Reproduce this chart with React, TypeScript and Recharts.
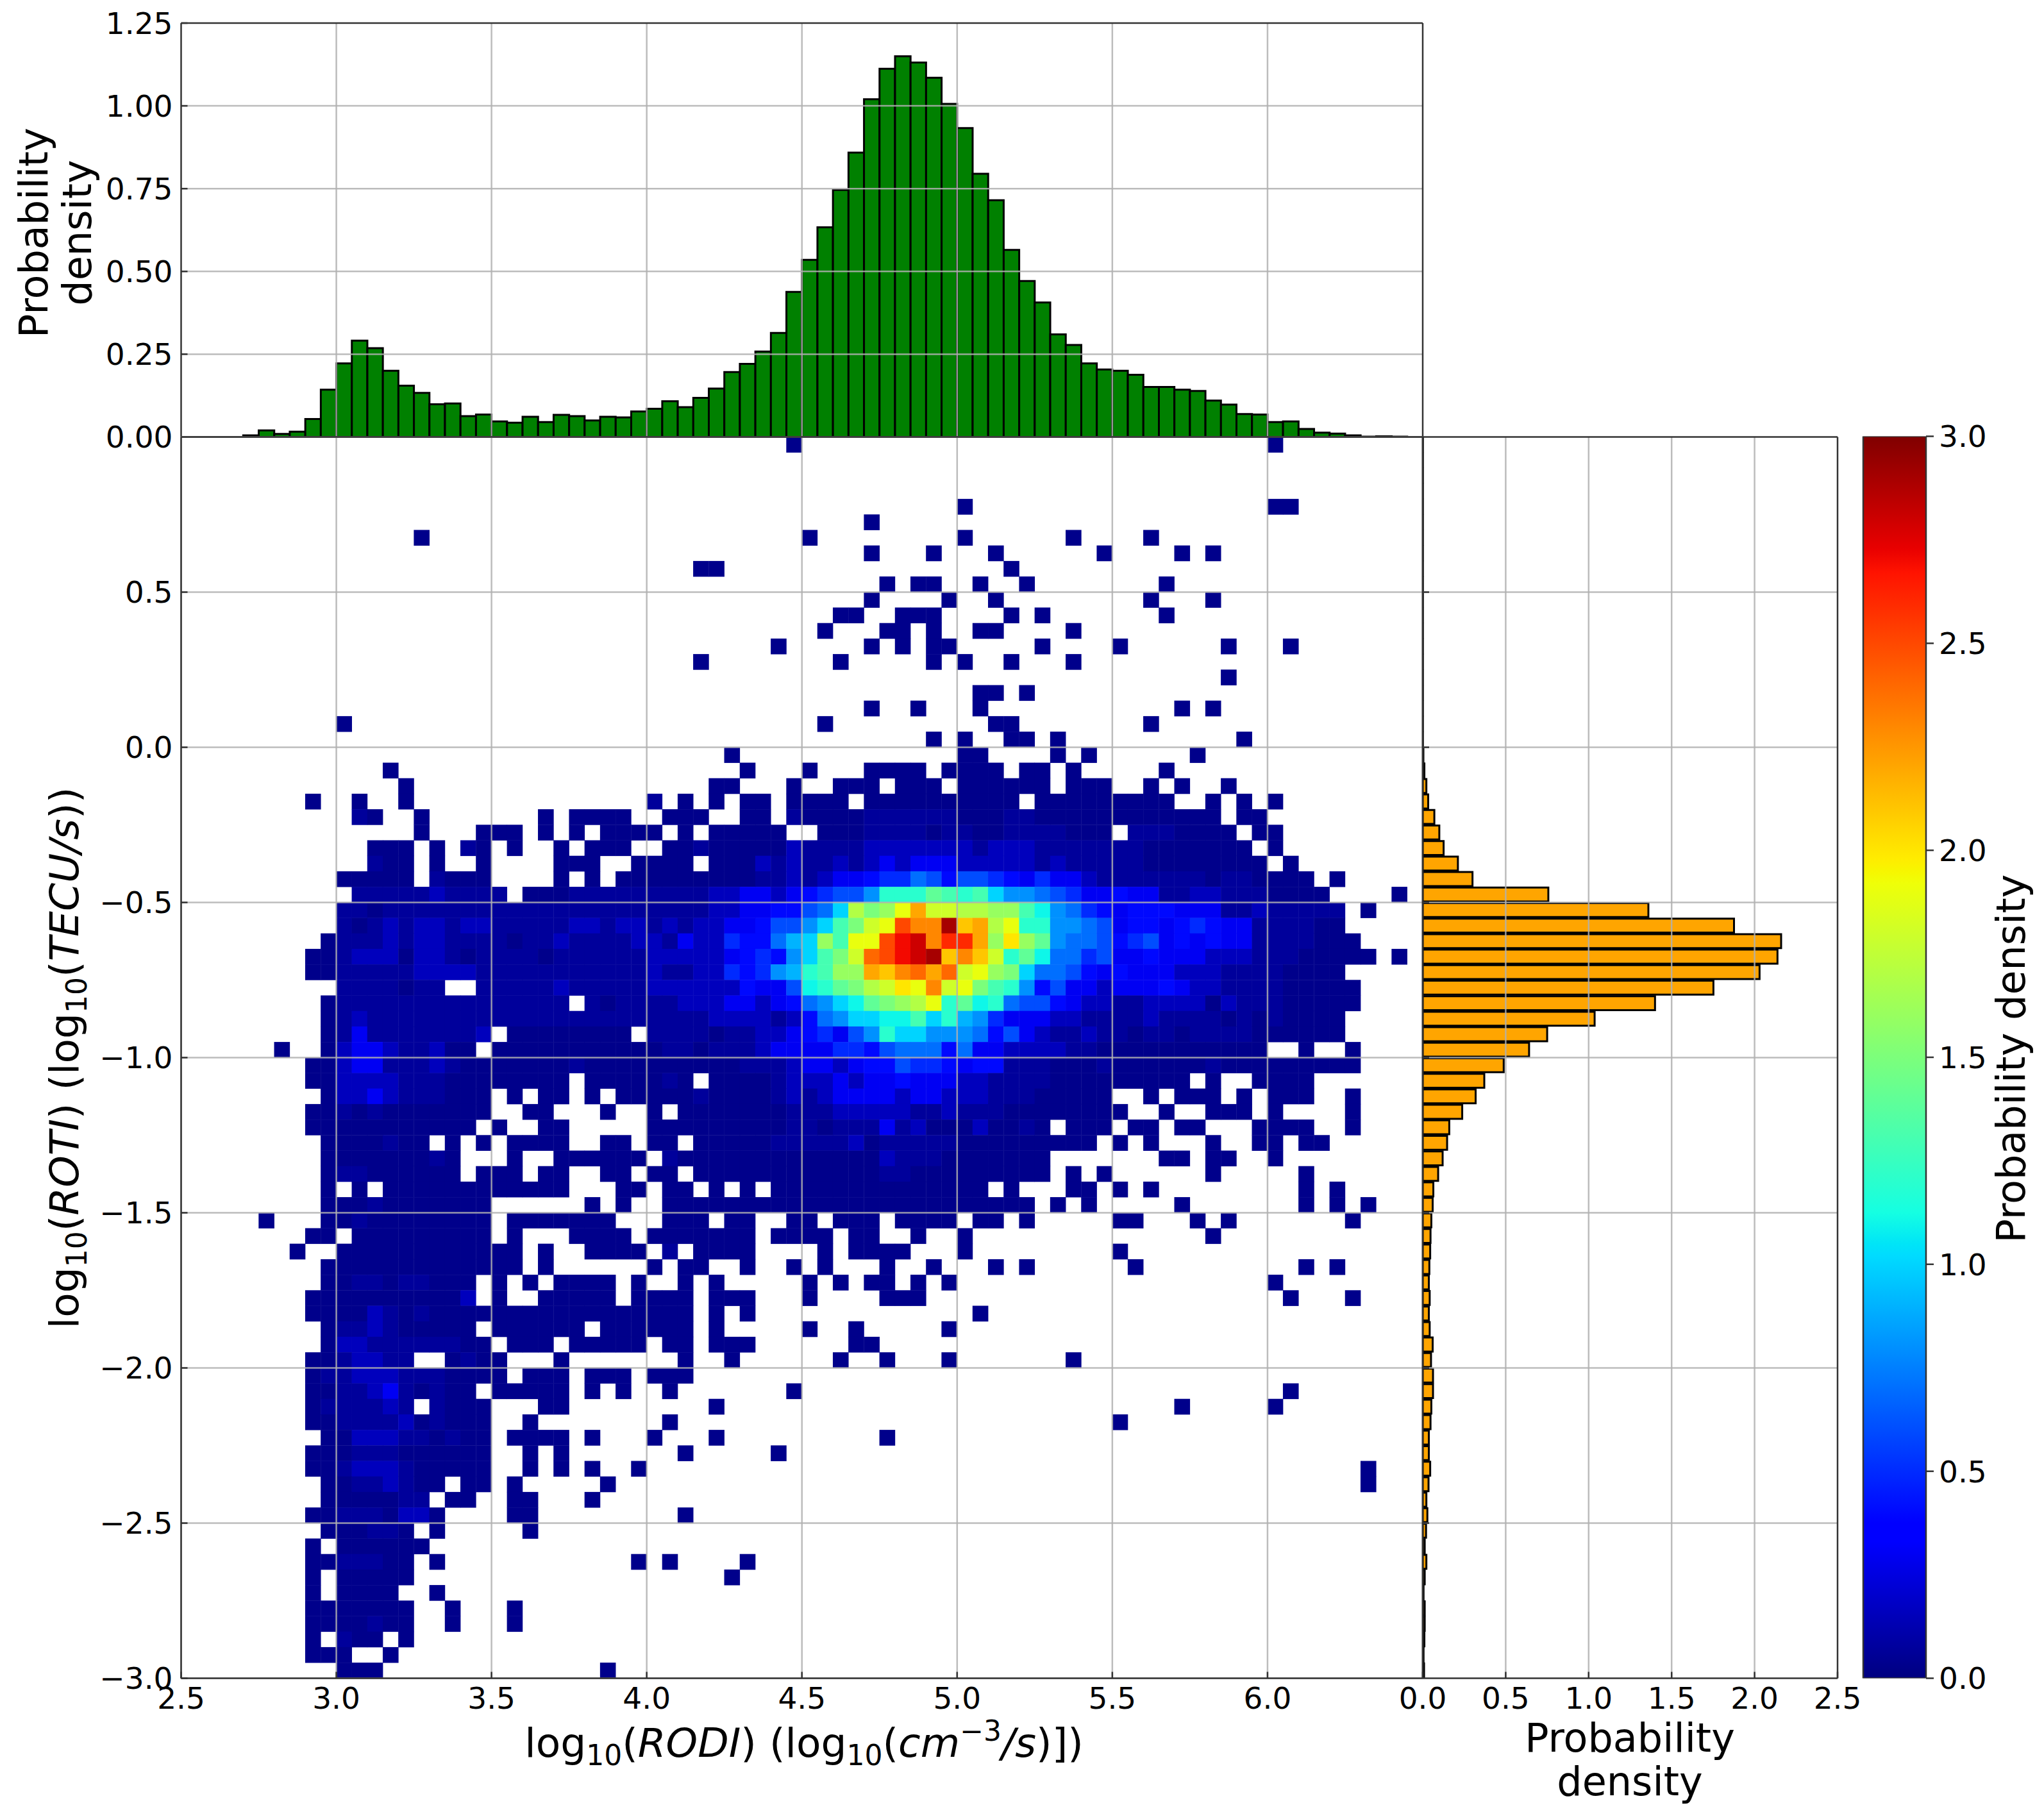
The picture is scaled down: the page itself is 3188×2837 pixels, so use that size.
import React from 'react';
import { BarChart, Bar, ScatterChart, Scatter, XAxis, YAxis, CartesianGrid, ReferenceLine } from 'recharts';

const PAGE_W = 3188;
const PAGE_H = 2837;
const FONT = '"DejaVu Sans", sans-serif';
const SPINE = '#333333';
const GRID = '#b0b0b0';

// page position of each panel
const LEFT = 282.5;
const RIGHT = 2219;
const HIST_TOP = 36;
const MAIN_TOP = 681.5;
const MAIN_BOTTOM = 2617.5;
const SIDE_RIGHT = 2866;
const BAR_LEFT = 2906;
const BAR_RIGHT = 3004;

const BIN = 0.05;
const X_MIN = 2.5;
const X_MAX = 6.5;
const Y_MIN = -3;
const Y_MAX = 1;

const xTicks = [2.5, 3, 3.5, 4, 4.5, 5, 5.5, 6];
const yTicks = [-3, -2.5, -2, -1.5, -1, -0.5, 0, 0.5];
const topTicks = [0, 0.25, 0.5, 0.75, 1, 1.25];
const sideTicks = [0, 0.5, 1, 1.5, 2, 2.5];
const colorTicks = [0, 0.5, 1, 1.5, 2, 2.5, 3];

// log10(RODI) marginal, one value per 0.05 bin from 2.5
const rodiDensity = [
  0, 0, 0, 0, 0.005, 0.02, 0.009, 0.016, 0.054, 0.143,
  0.222, 0.291, 0.268, 0.2, 0.155, 0.133, 0.099, 0.101, 0.063, 0.068,
  0.047, 0.043, 0.061, 0.045, 0.067, 0.063, 0.05, 0.061, 0.059, 0.077,
  0.085, 0.108, 0.09, 0.118, 0.146, 0.196, 0.221, 0.258, 0.314, 0.438,
  0.535, 0.633, 0.746, 0.859, 1.02, 1.112, 1.15, 1.131, 1.085, 1.006,
  0.933, 0.795, 0.715, 0.565, 0.471, 0.406, 0.31, 0.278, 0.222, 0.204,
  0.2, 0.188, 0.151, 0.151, 0.143, 0.139, 0.11, 0.098, 0.069, 0.068,
  0.045, 0.047, 0.024, 0.013, 0.01, 0.005, 0.001, 0.002, 0.001, 0,
];

// log10(ROTI) marginal, top bin (1.0) first
const rotiDensity = [
  0.001, 0.001, 0.001, 0.001, 0.001, 0.001, 0.001, 0.001, 0.001, 0.001,
  0.001, 0.001, 0.001, 0.001, 0.001, 0.001, 0.001, 0.001, 0.001, 0.001,
  0.004, 0.01, 0.022, 0.033, 0.07, 0.1, 0.126, 0.212, 0.3, 0.757,
  1.36, 1.876, 2.16, 2.138, 2.03, 1.752, 1.4, 1.036, 0.75, 0.641,
  0.488, 0.371, 0.319, 0.238, 0.16, 0.147, 0.12, 0.093, 0.064, 0.06,
  0.052, 0.047, 0.045, 0.04, 0.037, 0.042, 0.037, 0.042, 0.06, 0.05,
  0.062, 0.062, 0.052, 0.047, 0.037, 0.037, 0.045, 0.035, 0.022, 0.028,
  0.02, 0.012, 0.022, 0.012, 0.005, 0.012, 0.012, 0.01, 0.005, 0.008,
];

// one char per bin, density in steps of 0.1: 0-9 then a=1.0 ... u=3.0
const LEVELS = '0123456789abcdefghijklmnopqrstu';
const LOW_LEVELS = [0.03, 0.07, 0.16];

// 2D histogram, top row first; each row is a list of [first x bin, levels]
const densityRows: [number, string][][] = [
  [[39, '0'], [70, '0']],
  [],
  [],
  [],
  [[50, '0'], [70, '00']],
  [[44, '0']],
  [[15, '0'], [40, '0'], [50, '0'], [57, '0'], [62, '0']],
  [[44, '0'], [48, '0'], [52, '0'], [59, '0'], [64, '0'], [66, '0']],
  [[33, '00'], [53, '0']],
  [[45, '0'], [47, '00'], [51, '0'], [54, '0'], [63, '0']],
  [[44, '0'], [49, '0'], [52, '0'], [62, '0'], [66, '0']],
  [[42, '00'], [46, '000'], [53, '0'], [55, '0'], [63, '0']],
  [[41, '0'], [45, '00'], [48, '0'], [51, '00'], [57, '0']],
  [[38, '0'], [44, '0'], [46, '0'], [48, '00'], [55, '0'], [60, '0'], [67, '0'], [71, '0']],
  [[33, '0'], [42, '0'], [48, '0'], [50, '0'], [53, '0'], [57, '0']],
  [[67, '0']],
  [[51, '00'], [54, '0']],
  [[44, '0'], [47, '0'], [51, '0'], [64, '0'], [66, '0']],
  [[10, '0'], [41, '0'], [52, '00'], [62, '0']],
  [[48, '0'], [50, '0'], [53, '00'], [56, '0'], [68, '0']],
  [[35, '0'], [50, '00'], [56, '0'], [58, '0'], [65, '0']],
  [[13, '0'], [36, '0'], [40, '0'], [44, '0000'], [49, '0000'], [54, '00'], [57, '0'], [63, '0']],
  [[14, '0'], [34, '00'], [39, '0'], [42, '000'], [46, '000'], [50, '000000'], [57, '000'], [62, '0'], [64, '0'], [67, '0']],
  [[8, '0'], [11, '0'], [14, '0'], [30, '1'], [32, '0'], [34, '0'], [36, '00'], [39, '0000'], [44, '0000000000'], [55, '000000000'], [66, '0'], [68, '0'], [70, '0']],
  [[11, '10'], [15, '0'], [23, '0'], [25, '0000'], [31, '000'], [36, '00'], [39, '1'], [40, '000011111100011000000000000'], [68, '00']],
  [[15, '0'], [19, '000'], [23, '0'], [25, '0'], [27, '0000'], [32, '0'], [34, '00000'], [41, '0001111011001111000'], [61, '1110000'], [69, '00']],
  [[12, '000'], [16, '0'], [18, '1'], [19, '0'], [21, '0'], [24, '0'], [26, '000'], [31, '00'], [33, '1'], [34, '000002'], [40, '11112222222122211111110000000'], [70, '0']],
  [[12, '100'], [16, '0'], [19, '0'], [24, '000'], [29, '0000'], [34, '000212'], [40, '112123233322222121111100000000'], [71, '0']],
  [[10, '00000'], [16, '1000'], [24, '0'], [26, '0'], [28, '000000000112'], [40, '123345576466543533211111110110000'], [74, '0']],
  [[11, '1111121111'], [22, '00011111'], [30, '1111223323'], [40, '45668ccced'], [50, 'cda8876533'], [60, '43311221110000'], [78, '0']],
  [[10, '1101111111'], [20, '1111111111'], [30, '1111223344'], [40, '67ahfgjmii'], [50, 'hhggdb8754'], [60, '344433311211111'], [76, '0']],
  [[10, '1012122122'], [20, '1111122122'], [30, '1212233466'], [40, '8adfijpnnt'], [50, 'lmhjcc8876'], [60, '344345433111100']],
  [[9, '0'], [10, '1112122111'], [20, '1011211112'], [30, '2132254479'], [40, 'agdjjprsnq'], [50, 'qmgkge8776'], [60, '4563434331111000']],
  [[8, '00'], [10, '1222022101'], [20, '1110111111'], [30, '2222234548'], [40, 'adfioprstl'], [50, 'nliceb7756'], [60, '33433322211100000'], [78, '0']],
  [[8, '00'], [10, '1111122221'], [20, '1111111111'], [30, '2112254589'], [40, 'cdggmlnomo'], [50, 'ijgfa77643'], [60, '433322211110000']],
  [[10, '1111011'], [19, '1'], [20, '1111211111'], [30, '2222224336'], [40, 'bcefhikjni'], [50, 'jfdc846332'], [60, '3334322111100000']],
  [[9, '0'], [10, '1111111111'], [20, '11111'], [26, '1011'], [30, '1122233234'], [40, '78abefghjc'], [50, 'ebc7664322'], [60, '1122220211100000']],
  [[9, '0'], [10, '1211111111'], [20, '1111111111'], [30, '1111222212'], [40, '478aabbdac'], [50, '9853332211'], [60, '112111101010000']],
  [[9, '0'], [10, '1311111112'], [21, '00000000'], [30, '1111011223'], [40, '45368caa88'], [50, '8746321121'], [60, '101101111000000']],
  [[6, '0'], [9, '0233211200'], [20, '0000000000'], [30, '0110111233'], [40, '3355467774'], [50, '7332222110'], [60, '0000000000'], [72, '0'], [75, '0']],
  [[8, '00'], [10, '2331112100'], [20, '0000010000'], [30, '0000001112'], [40, '3323446554'], [50, '3441110001'], [60, '0000001000000000']],
  [[8, '00'], [10, '2222111000'], [20, '00000'], [26, '0000010'], [34, '000012'], [40, '2232334333'], [50, '2211110000'], [60, '00000'], [66, '0'], [69, '0000']],
  [[9, '0'], [10, '2232111000'], [21, '0'], [23, '00'], [26, '0'], [28, '000001000012'], [40, '1233332332'], [50, '2211100000'], [62, '0'], [64, '000'], [68, '0'], [70, '000'], [75, '0']],
  [[8, '00'], [10, '1010000000'], [22, '00'], [27, '0'], [30, '0'], [32, '00000001'], [40, '1122222112'], [50, '11100000000'], [63, '0'], [66, '000'], [70, '0'], [75, '0']],
  [[8, '00000000000'], [20, '0'], [23, '00'], [30, '0000000001'], [40, '1011131200020010'], [57, '000'], [61, '00'], [64, '00'], [69, '0'], [70, '000'], [75, '0']],
  [[9, '0000100'], [17, '0'], [19, '0'], [21, '0000'], [27, '00'], [30, '00'], [33, '0000011'], [40, '1112011111'], [50, '000000000'], [60, '0'], [62, '0'], [66, '0'], [69, '00'], [72, '00']],
  [[9, '000000010'], [21, '0'], [24, '000000'], [31, '100000000'], [40, '0000021110000000'], [63, '00'], [66, '00'], [70, '0']],
  [[9, '011000000'], [19, '000'], [23, '00'], [27, '00'], [30, '00'], [33, '0000000'], [40, '0000011000000000'], [57, '0'], [59, '0'], [66, '0'], [72, '0']],
  [[9, '0'], [11, '0'], [13, '000000000000'], [28, '00'], [31, '00'], [34, '0'], [36, '0'], [38, '00000000000000'], [53, '0'], [57, '00'], [60, '0'], [62, '0'], [72, '0'], [74, '0']],
  [[9, '00010000000'], [26, '0'], [28, '0'], [31, '000000000000000000000000'], [56, '0'], [58, '0'], [64, '0'], [72, '0'], [74, '0'], [76, '0']],
  [[5, '0'], [9, '00100000000'], [21, '0000000'], [31, '000'], [35, '00'], [39, '00'], [42, '000'], [46, '0000'], [51, '00'], [54, '0'], [60, '00'], [65, '0'], [67, '0'], [75, '0']],
  [[8, '00'], [11, '000000000'], [21, '0'], [25, '0000'], [30, '0000000'], [38, '0000'], [43, '00'], [47, '0'], [50, '0'], [66, '0']],
  [[7, '0'], [10, '000000000000'], [23, '0'], [26, '0000'], [31, '1'], [33, '0000'], [41, '0'], [43, '0000'], [50, '0'], [60, '0']],
  [[9, '0000000000000'], [23, '0'], [30, '0'], [32, '00'], [36, '0'], [39, '0'], [41, '0'], [45, '0'], [48, '0'], [52, '0'], [54, '0'], [61, '0'], [72, '0'], [74, '0']],
  [[9, '0011011000'], [20, '0'], [22, '0'], [24, '0000'], [29, '0'], [32, '0'], [34, '0'], [40, '0'], [42, '0'], [44, '00'], [47, '0'], [49, '0'], [70, '0']],
  [[8, '00000000002'], [20, '0'], [23, '00000'], [29, '0000'], [34, '000'], [40, '0'], [45, '000'], [71, '0'], [75, '0']],
  [[8, '00002101'], [16, '00000000000000'], [30, '000'], [34, '0'], [36, '0'], [51, '0']],
  [[9, '0112100000'], [20, '000000'], [27, '000000'], [34, '0'], [40, '0'], [43, '0'], [49, '0']],
  [[9, '02211111100'], [21, '000'], [25, '00000'], [31, '00'], [34, '000'], [43, '00']],
  [[8, '0012211'], [17, '0100'], [24, '0'], [32, '0'], [35, '0'], [42, '0'], [45, '0'], [49, '0'], [57, '0']],
  [[8, '0112221110000'], [22, '000'], [26, '000'], [30, '000']],
  [[8, '00112310100'], [20, '00000'], [26, '0'], [28, '0'], [31, '0'], [39, '0'], [71, '0']],
  [[8, '0111121'], [16, '1000'], [23, '00'], [34, '0'], [64, '0'], [70, '0']],
  [[8, '001111201000'], [22, '0'], [31, '0'], [60, '0']],
  [[9, '00222110100'], [21, '0000'], [26, '0'], [30, '0'], [34, '0'], [45, '0']],
  [[8, '000111000000'], [22, '0'], [24, '0'], [32, '0'], [38, '0']],
  [[8, '001222100000'], [22, '0'], [24, '0'], [26, '0'], [29, '0'], [76, '0']],
  [[9, '00112100'], [18, '00'], [21, '0'], [27, '0'], [76, '0']],
  [[9, '0000011'], [17, '00'], [21, '00'], [26, '0']],
  [[8, '001110220'], [21, '00'], [32, '0']],
  [[9, '000110'], [16, '0'], [22, '0']],
  [[8, '0'], [10, '000000']],
  [[8, '0011100'], [16, '0'], [29, '0'], [31, '0'], [36, '0']],
  [[8, '0'], [10, '00000'], [35, '0']],
  [[8, '0'], [10, '0000'], [16, '0']],
  [[8, '0000000'], [17, '0'], [21, '0']],
  [[8, '0000100'], [17, '0'], [21, '0']],
  [[8, '0'], [10, '100'], [14, '0']],
  [[8, '000'], [13, '0']],
  [[10, '000'], [27, '0']],
];

const levelValue = (ch: string) => {
  const i = LEVELS.indexOf(ch);
  return i < LOW_LEVELS.length ? LOW_LEVELS[i] : i * 0.1;
};

const rodiTable = rodiDensity.map((density, i) => ({ x: X_MIN + BIN * (i + 0.5), density }));
const rotiTable = rotiDensity.map((density, i) => ({ y: Y_MAX - BIN * (i + 0.5), density }));
const cellTable = densityRows.flatMap((row, r) =>
  row.flatMap(([first, levels]) =>
    [...levels].map((ch, i) => ({
      x: X_MIN + BIN * (first + i + 0.5),
      y: Y_MAX - BIN * (r + 0.5),
      density: levelValue(ch),
    })),
  ),
);

// matplotlib jet
const JET_R = [[0, 0], [0.35, 0], [0.66, 1], [0.89, 1], [1, 0.5]];
const JET_G = [[0, 0], [0.125, 0], [0.375, 1], [0.64, 1], [0.91, 0], [1, 0]];
const JET_B = [[0, 0.5], [0.11, 1], [0.34, 1], [0.65, 0], [1, 0]];
const JET_STOPS = [0, 0.11, 0.125, 0.34, 0.35, 0.375, 0.64, 0.65, 0.66, 0.89, 0.91, 1];

const channel = (anchors: number[][], t: number) => {
  for (let i = 1; i < anchors.length; i++) {
    if (t <= anchors[i][0]) {
      const [a, va] = anchors[i - 1];
      const [b, vb] = anchors[i];
      return Math.round((va + ((t - a) / (b - a)) * (vb - va)) * 255);
    }
  }
  return Math.round(anchors[anchors.length - 1][1] * 255);
};
const jet = (t: number) => `rgb(${channel(JET_R, t)},${channel(JET_G, t)},${channel(JET_B, t)})`;

const minus = (s: string) => s.replace('-', '\u2212');
const fmt1 = (v: number) => minus(v.toFixed(1));
const fmt2 = (v: number) => v.toFixed(2);

const tickText = { fontFamily: FONT, fontSize: 47, fill: '#000' };

// ticks point into the panel, the axis line position comes in as x / y
const leftTick = (format?: (v: number) => string) => ({ x, y, payload }: any) => (
  <g>
    <line x1={x} x2={x + 10} y1={y} y2={y} stroke={SPINE} strokeWidth={2.5} />
    {format && (
      <text x={x - 13} y={y} dy="0.36em" textAnchor="end" {...tickText}>
        {format(payload.value)}
      </text>
    )}
  </g>
);
const rightTick = ({ x, y }: any) => <line x1={x} x2={x - 10} y1={y} y2={y} stroke={SPINE} strokeWidth={2.5} />;
const topTick = ({ x, y }: any) => <line x1={x} x2={x} y1={y} y2={y + 10} stroke={SPINE} strokeWidth={2.5} />;
const bottomTick = ({ x, y, payload }: any) => (
  <g>
    <line x1={x} x2={x} y1={y} y2={y - 10} stroke={SPINE} strokeWidth={2.5} />
    <text x={x} y={y + 47} textAnchor="middle" {...tickText}>
      {fmt1(payload.value)}
    </text>
  </g>
);
const colorTick = ({ x, y, payload }: any) => (
  <g>
    <line x1={x} x2={x + 12} y1={y} y2={y} stroke={SPINE} strokeWidth={2.5} />
    <text x={x + 20} y={y} dy="0.36em" textAnchor="start" {...tickText}>
      {fmt1(payload.value)}
    </text>
  </g>
);

const titleText = { fontFamily: FONT, fontSize: 62, fill: '#000' };
const mathText = { fontFamily: FONT, fontSize: 63, fill: '#000' };
const SUB = { fontSize: 44, dy: 13 };

function HeatCell({ cx, cy, payload }: any) {
  const w = (RIGHT - LEFT) / 80 + 0.4;
  const h = (MAIN_BOTTOM - MAIN_TOP) / 80 + 0.4;
  return <rect x={cx - w / 2} y={cy - h / 2} width={w} height={h} fill={jet(payload.density / 3)} />;
}

const layer: React.CSSProperties = { position: 'absolute', left: 0, top: 0 };
const axisLine = { stroke: SPINE, strokeWidth: 2.5 };
const gridProps = { stroke: GRID, strokeWidth: 2.5, strokeOpacity: 0.85 };

// every axis is 1px thick, so the plot area lands exactly on the panel
const frame = (top: number, right: number, bottom: number, left: number) => ({
  top: top - 1,
  right: PAGE_W - right - 1,
  bottom: PAGE_H - bottom - 1,
  left: left - 1,
});

export default function App() {
  return (
    <div style={{ position: 'absolute', left: 0, top: 0, width: PAGE_W, height: PAGE_H, background: '#fff' }}>
      {/* marginal of log10(RODI) */}
      <div style={layer}>
        <BarChart width={PAGE_W} height={PAGE_H} data={rodiTable} margin={frame(HIST_TOP, RIGHT, MAIN_TOP, LEFT)}>
          <XAxis dataKey="x" type="number" domain={[X_MIN, X_MAX]} height={1} tick={false} tickLine={false} axisLine={axisLine} allowDataOverflow />
          <YAxis type="number" domain={[0, 1.25]} ticks={topTicks} width={1} tick={leftTick(fmt2)} tickLine={false} tickSize={0} tickMargin={0} axisLine={axisLine} interval={0} allowDataOverflow />
          <XAxis xAxisId="top" orientation="top" type="number" domain={[X_MIN, X_MAX]} height={1} tick={false} tickLine={false} axisLine={axisLine} />
          <YAxis yAxisId="right" orientation="right" type="number" domain={[0, 1.25]} width={1} tick={false} tickLine={false} axisLine={axisLine} />
          <Bar dataKey="density" fill="#008000" stroke="#000" strokeWidth={3} barSize={24.2} isAnimationActive={false} />
          {topTicks.slice(1, 5).map((v) => (
            <ReferenceLine key={v} y={v} {...gridProps} />
          ))}
          {xTicks.slice(1).map((v) => (
            <ReferenceLine key={v} x={v} {...gridProps} />
          ))}
          <text transform="translate(74,363) rotate(-90)" textAnchor="middle" {...titleText}>Probability</text>
          <text transform="translate(142,363) rotate(-90)" textAnchor="middle" {...titleText}>density</text>
        </BarChart>
      </div>

      {/* joint density */}
      <div style={layer}>
        <ScatterChart width={PAGE_W} height={PAGE_H} margin={frame(MAIN_TOP, RIGHT, MAIN_BOTTOM, LEFT)}>
          <XAxis dataKey="x" type="number" domain={[X_MIN, X_MAX]} ticks={xTicks} height={1} tick={bottomTick} tickLine={false} tickSize={0} tickMargin={0} axisLine={axisLine} interval={0} allowDataOverflow zIndex={700} />
          <YAxis dataKey="y" type="number" domain={[Y_MIN, Y_MAX]} ticks={yTicks} width={1} tick={leftTick(fmt1)} tickLine={false} tickSize={0} tickMargin={0} axisLine={axisLine} interval={0} allowDataOverflow zIndex={700} />
          <XAxis xAxisId="top" orientation="top" type="number" domain={[X_MIN, X_MAX]} ticks={xTicks.slice(1)} height={1} tick={topTick} tickLine={false} tickSize={0} tickMargin={0} axisLine={axisLine} interval={0} zIndex={700} />
          <YAxis yAxisId="right" orientation="right" type="number" domain={[Y_MIN, Y_MAX]} ticks={yTicks.slice(1)} width={1} tick={rightTick} tickLine={false} tickSize={0} tickMargin={0} axisLine={axisLine} interval={0} zIndex={700} />
          <Scatter data={cellTable} shape={HeatCell} isAnimationActive={false} zIndex={300} />
          <CartesianGrid {...gridProps} zIndex={400} />
          <text x={1254} y={2740} textAnchor="middle" {...mathText}>
            log<tspan {...SUB}>10</tspan>
            <tspan dy={-13}>(</tspan>
            <tspan fontStyle="italic">RODI</tspan>) (log<tspan {...SUB}>10</tspan>
            <tspan dy={-13}>(</tspan>
            <tspan fontStyle="italic">cm</tspan>
            <tspan fontSize={44} dy={-25}>{'\u22123'}</tspan>
            <tspan dy={25} fontStyle="italic">/s</tspan>)])
          </text>
          <text transform="translate(122,1650) rotate(-90)" textAnchor="middle" {...mathText}>
            log<tspan {...SUB}>10</tspan>
            <tspan dy={-13}>(</tspan>
            <tspan fontStyle="italic">ROTI</tspan>) (log<tspan {...SUB}>10</tspan>
            <tspan dy={-13}>(</tspan>
            <tspan fontStyle="italic">TECU/s</tspan>))
          </text>
        </ScatterChart>
      </div>

      {/* marginal of log10(ROTI) */}
      <div style={layer}>
        <BarChart layout="vertical" width={PAGE_W} height={PAGE_H} data={rotiTable} margin={frame(MAIN_TOP, SIDE_RIGHT, MAIN_BOTTOM, RIGHT)}>
          <XAxis type="number" domain={[0, 2.5]} ticks={sideTicks} height={1} tick={bottomTick} tickLine={false} tickSize={0} tickMargin={0} axisLine={axisLine} interval={0} allowDataOverflow />
          <YAxis dataKey="y" type="number" reversed domain={[Y_MIN, Y_MAX]} ticks={yTicks.slice(1)} width={1} tick={leftTick()} tickLine={false} tickSize={0} tickMargin={0} axisLine={axisLine} interval={0} allowDataOverflow />
          <XAxis xAxisId="top" orientation="top" type="number" domain={[0, 2.5]} height={1} tick={false} tickLine={false} axisLine={axisLine} />
          <YAxis yAxisId="right" orientation="right" type="number" domain={[Y_MIN, Y_MAX]} width={1} tick={false} tickLine={false} axisLine={axisLine} />
          <Bar dataKey="density" fill="#ffa500" stroke="#000" strokeWidth={3} barSize={24.2} isAnimationActive={false} />
          {sideTicks.slice(1, 5).map((v) => (
            <ReferenceLine key={v} x={v} {...gridProps} />
          ))}
          {yTicks.slice(1).map((v) => (
            <ReferenceLine key={v} y={v} {...gridProps} />
          ))}
          <text x={2542} y={2732} textAnchor="middle" {...titleText}>Probability</text>
          <text x={2542} y={2800} textAnchor="middle" {...titleText}>density</text>
        </BarChart>
      </div>

      {/* colour bar */}
      <div style={layer}>
        <BarChart
          width={PAGE_W}
          height={PAGE_H}
          data={[{ name: 'density', top: 3 }]}
          barCategoryGap={0}
          margin={{ ...frame(MAIN_TOP, BAR_RIGHT, MAIN_BOTTOM, BAR_LEFT), left: BAR_LEFT }}
        >
          <defs>
            <linearGradient id="jetBar" x1="0" y1="1" x2="0" y2="0">
              {JET_STOPS.map((t) => (
                <stop key={t} offset={t} stopColor={jet(t)} />
              ))}
            </linearGradient>
          </defs>
          <XAxis dataKey="name" height={1} tick={false} tickLine={false} axisLine={false} />
          <YAxis orientation="right" type="number" domain={[0, 3]} ticks={colorTicks} width={1} tick={colorTick} tickLine={false} tickSize={0} tickMargin={0} axisLine={false} interval={0} allowDataOverflow />
          <Bar dataKey="top" fill="url(#jetBar)" stroke={SPINE} strokeWidth={2.5} isAnimationActive={false} />
          <text transform="translate(3158,1651) rotate(-90)" textAnchor="middle" {...titleText}>Probability density</text>
        </BarChart>
      </div>
    </div>
  );
}
